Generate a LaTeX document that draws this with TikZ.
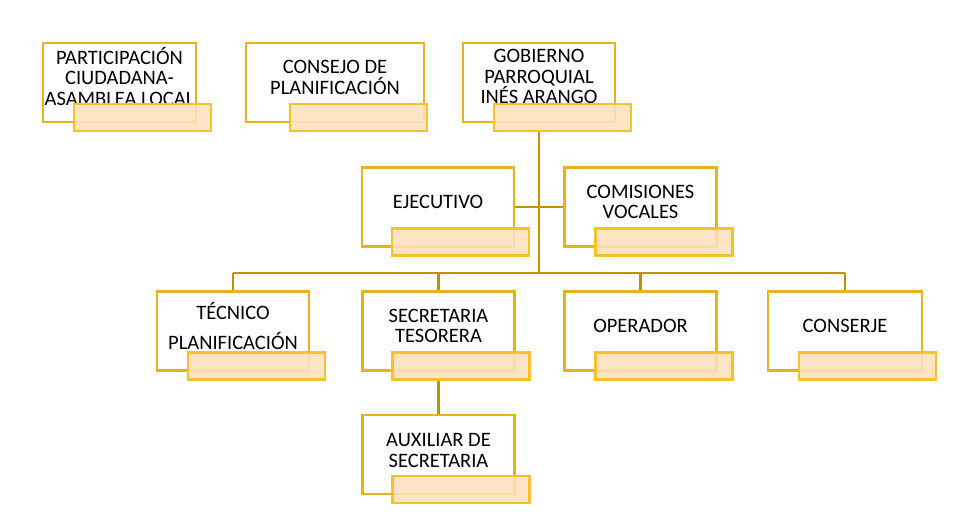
\documentclass[tikz,border=0pt]{standalone}
\usepackage{fontspec}
\setmainfont{Carlito}
\usetikzlibrary{positioning}
\definecolor{oroborde}{RGB}{232,178,30}
\definecolor{orolinea}{RGB}{191,144,0}
\definecolor{durazno}{RGB}{252,225,190}
\definecolor{durazborde}{RGB}{247,194,40}
\tikzset{
  cargo/.style={draw=oroborde, line width=2.4pt, fill=white, minimum width=152pt, minimum height=79pt, inner sep=0pt},
  rotulo/.style={align=center, font=\fontsize{20.5}{20.5}\selectfont, inner sep=0pt},
  franja/.style={draw=durazborde, line width=2.4pt, fill=durazno, fill opacity=0.88, minimum width=137pt, minimum height=27pt, inner sep=0pt},
  enlace/.style={draw=orolinea, line width=2.6pt}
}
\begin{document}
\begin{tikzpicture}[x=1pt, y=-1pt]
  \useasboundingbox (0,0) rectangle (960,522);
  % cajas principales
  \node[cargo, minimum width=153pt] (part) at (119.5,82.5) {};
  \node[cargo, minimum width=178pt] (cons) at (335,82.5) {};
  \node[cargo] (gob) at (539,82.5) {};
  \node[cargo] (eje) at (438,207) {};
  \node[cargo] (com) at (640.5,207) {};
  \node[cargo] (tec) at (233,331) {};
  \node[cargo] (sec) at (438.5,331) {};
  \node[cargo] (ope) at (640.5,331) {};
  \node[cargo, minimum width=154pt] (conj) at (845,331) {};
  \node[cargo] (aux) at (438.5,454.5) {};
  % textos
  \node[rotulo] (tpart) at ([yshift=6pt]part.center) {PARTICIPACIÓN\\CIUDADANA-\\ASAMBLEA LOCAL};
  \node[rotulo] (tcons) at ([yshift=5pt]cons.center) {CONSEJO DE\\PLANIFICACIÓN};
  \node[rotulo] (tgob) at ([yshift=6pt]gob.center) {GOBIERNO\\PARROQUIAL\\INÉS ARANGO};
  \node[rotulo] (teje) at ([yshift=5pt]eje.center) {EJECUTIVO};
  \node[rotulo] (tcom) at ([yshift=5pt]com.center) {COMISIONES\\VOCALES};
  \node[rotulo] (ttec) at ([yshift=5pt]tec.center) {TÉCNICO\\[10pt]PLANIFICACIÓN};
  \node[rotulo] (tsec) at ([yshift=5pt]sec.center) {SECRETARIA\\TESORERA};
  \node[rotulo] (tope) at ([yshift=5pt]ope.center) {OPERADOR};
  \node[rotulo] (tconj) at ([yshift=5pt]conj.center) {CONSERJE};
  \node[rotulo] (taux) at ([yshift=4pt]aux.center) {AUXILIAR DE\\SECRETARIA};
  % franjas inferiores
  \foreach \c/\dx in {part/15, cons/3, gob/16, eje/15, com/16, tec/16, sec/15, ope/16, conj/14, aux/15}
    \node[franja, anchor=south east] (\c-f) at ([xshift=\dx pt, yshift=-9pt]\c.south east) {};
  % conectores
  \coordinate (bus) at (540,273);
  \draw[enlace] (gob.south |- gob-f.south) -- (gob.south |- bus);
  \draw[enlace] (eje.east) -- (com.west);
  \draw[enlace] (tec.north |- bus) -- (conj.north |- bus);
  \foreach \c in {tec, sec, ope, conj}
    \draw[enlace] (\c.north |- bus) -- (\c.north);
  \draw[enlace] (sec.south |- sec-f.south) -- (aux.north);
\end{tikzpicture}
\end{document}
